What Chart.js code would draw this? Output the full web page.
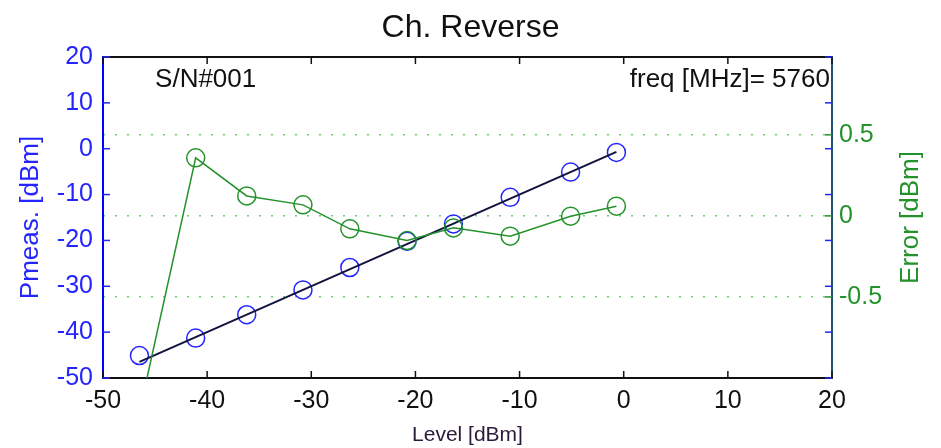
<!DOCTYPE html>
<html lang="en">
<head>
  <meta charset="UTF-8">
  <title>Ch. Reverse</title>
  <style>
    body {
      margin: 0;
      background: #ffffff;
    }
    .chart-box {
      width: 941px;
      height: 448px;
    }
  </style>
</head>
<body>
  <div class="chart-box">
    <canvas id="chReverse" width="941" height="448"></canvas>
  </div>
  <script src="https://cdn.jsdelivr.net/npm/chart.js"></script>
  <script>
    // values
    const levels = [-46.5, -41.1, -36.2, -30.8, -26.3, -20.8, -16.35, -10.9, -5.1, -0.7];
    const pmeas = [-45.1, -41.3, -36.2, -30.8, -25.9, -20.2, -16.4, -10.6, -5.1, -0.8];
    const errors = [-1.21, 0.358, 0.123, 0.068, -0.08, -0.152, -0.074, -0.125, -0.002, 0.06];
    const idealX = [-46.5, -0.7];
    const idealY = [-46.5, -0.7];
    const errorTicks = [-0.5, 0, 0.5];
    const snText = 'S/N#001';
    const freqText = 'freq [MHz]= 5760';

    const FONT = '"Liberation Sans", Arial, sans-serif';
    const BLUE = '#2424ff';
    const GREEN = '#23922a';

    // matlab style frame: top line, inward ticks, text labels
    const matlabFrame = {
      id: 'matlabFrame',
      afterDraw(chart) {
        const { ctx, chartArea: a, scales } = chart;
        const { x, y, y1 } = scales;
        const line = (x1, y1_, x2, y2) => {
          ctx.beginPath();
          ctx.moveTo(x1, y1_);
          ctx.lineTo(x2, y2);
          ctx.stroke();
        };
        ctx.save();
        ctx.strokeStyle = '#111';
        ctx.lineWidth = 2;
        line(a.left, a.top, a.right, a.top);

        ctx.lineWidth = 1.5;
        x.ticks.forEach(t => {
          const px = x.getPixelForValue(t.value);
          line(px, a.bottom, px, a.bottom - 7);
          line(px, a.top, px, a.top + 7);
        });
        ctx.strokeStyle = BLUE;
        y.ticks.forEach(t => {
          const py = y.getPixelForValue(t.value);
          line(a.left, py, a.left + 7, py);
          line(a.right, py, a.right - 7, py);
        });
        ctx.strokeStyle = GREEN;
        y1.ticks.forEach(t => {
          const py = y1.getPixelForValue(t.value);
          line(a.right, py, a.right - 7, py);
        });

        ctx.fillStyle = '#111';
        ctx.font = '26px ' + FONT;
        ctx.textBaseline = 'middle';
        ctx.textAlign = 'left';
        ctx.fillText(snText, x.getPixelForValue(-45), y.getPixelForValue(15));
        ctx.textAlign = 'right';
        ctx.fillText(freqText, x.getPixelForValue(19.8), y.getPixelForValue(15));

        // right axis title reads bottom to top like the left one
        ctx.translate(y1.right - 30, (a.top + a.bottom) / 2);
        ctx.rotate(-Math.PI / 2);
        ctx.textAlign = 'center';
        ctx.fillStyle = GREEN;
        ctx.fillText('Error [dBm]', 0, 0);
        ctx.restore();
      }
    };

    new Chart(document.getElementById('chReverse'), {
      type: 'line',
      data: {
        datasets: [
          {
            label: 'Error',
            data: levels.map((l, i) => ({ x: l, y: errors[i] })),
            yAxisID: 'y1',
            borderColor: GREEN,
            borderWidth: 1.5,
            pointRadius: 9,
            pointBorderWidth: 1.5,
            pointBorderColor: GREEN,
            pointBackgroundColor: 'rgba(0,0,0,0)',
            tension: 0,
            clip: 0
          },
          {
            label: 'Ideal',
            data: idealX.map((v, i) => ({ x: v, y: idealY[i] })),
            yAxisID: 'y',
            borderColor: '#12123e',
            borderWidth: 2,
            pointRadius: 0,
            tension: 0
          },
          {
            label: 'Pmeas',
            data: levels.map((l, i) => ({ x: l, y: pmeas[i] })),
            yAxisID: 'y',
            showLine: false,
            pointRadius: 9,
            pointBorderWidth: 1.5,
            pointBorderColor: BLUE,
            pointBackgroundColor: 'rgba(0,0,0,0)'
          }
        ]
      },
      options: {
        responsive: false,
        animation: false,
        devicePixelRatio: 1,
        layout: { padding: 0 },
        plugins: {
          legend: { display: false },
          tooltip: { enabled: false },
          title: {
            display: true,
            text: 'Ch. Reverse',
            color: '#111',
            font: { family: FONT, size: 32, weight: 'normal' },
            padding: { top: 9, bottom: 9.6 }
          }
        },
        scales: {
          x: {
            type: 'linear',
            min: -50,
            max: 20,
            ticks: { stepSize: 10, color: '#111', font: { family: FONT, size: 25 }, padding: 8, maxRotation: 0 },
            grid: { display: false, drawTicks: false },
            border: { color: '#111', width: 2 },
            title: {
              display: true,
              text: 'Level [dBm]',
              color: '#2a1a3a',
              font: { family: FONT, size: 21 },
              padding: { top: 0, bottom: 0 }
            },
            afterFit(scale) { scale.height = 70; }
          },
          y: {
            position: 'left',
            min: -50,
            max: 20,
            ticks: { stepSize: 10, color: BLUE, font: { family: FONT, size: 25 }, padding: 10 },
            grid: { display: false, drawTicks: false },
            border: { color: '#0000ff', width: 2 },
            title: {
              display: true,
              text: 'Pmeas. [dBm]',
              color: BLUE,
              font: { family: FONT, size: 26 },
              padding: { top: 15, bottom: 0 }
            },
            afterFit(scale) { scale.width = 103; }
          },
          y1: {
            position: 'right',
            min: -1,
            max: 0.98,
            afterBuildTicks(scale) {
              scale.ticks = errorTicks.map(v => ({ value: v }));
            },
            ticks: {
              color: GREEN,
              font: { family: FONT, size: 25 },
              padding: 7,
              callback: v => String(v)
            },
            grid: { color: '#6fcf6f', lineWidth: 1.5, drawTicks: false },
            border: { color: '#1d5570', width: 2, dash: [2, 10] },
            afterFit(scale) { scale.width = 109; }
          }
        }
      },
      plugins: [matlabFrame]
    });
  </script>
</body>
</html>
